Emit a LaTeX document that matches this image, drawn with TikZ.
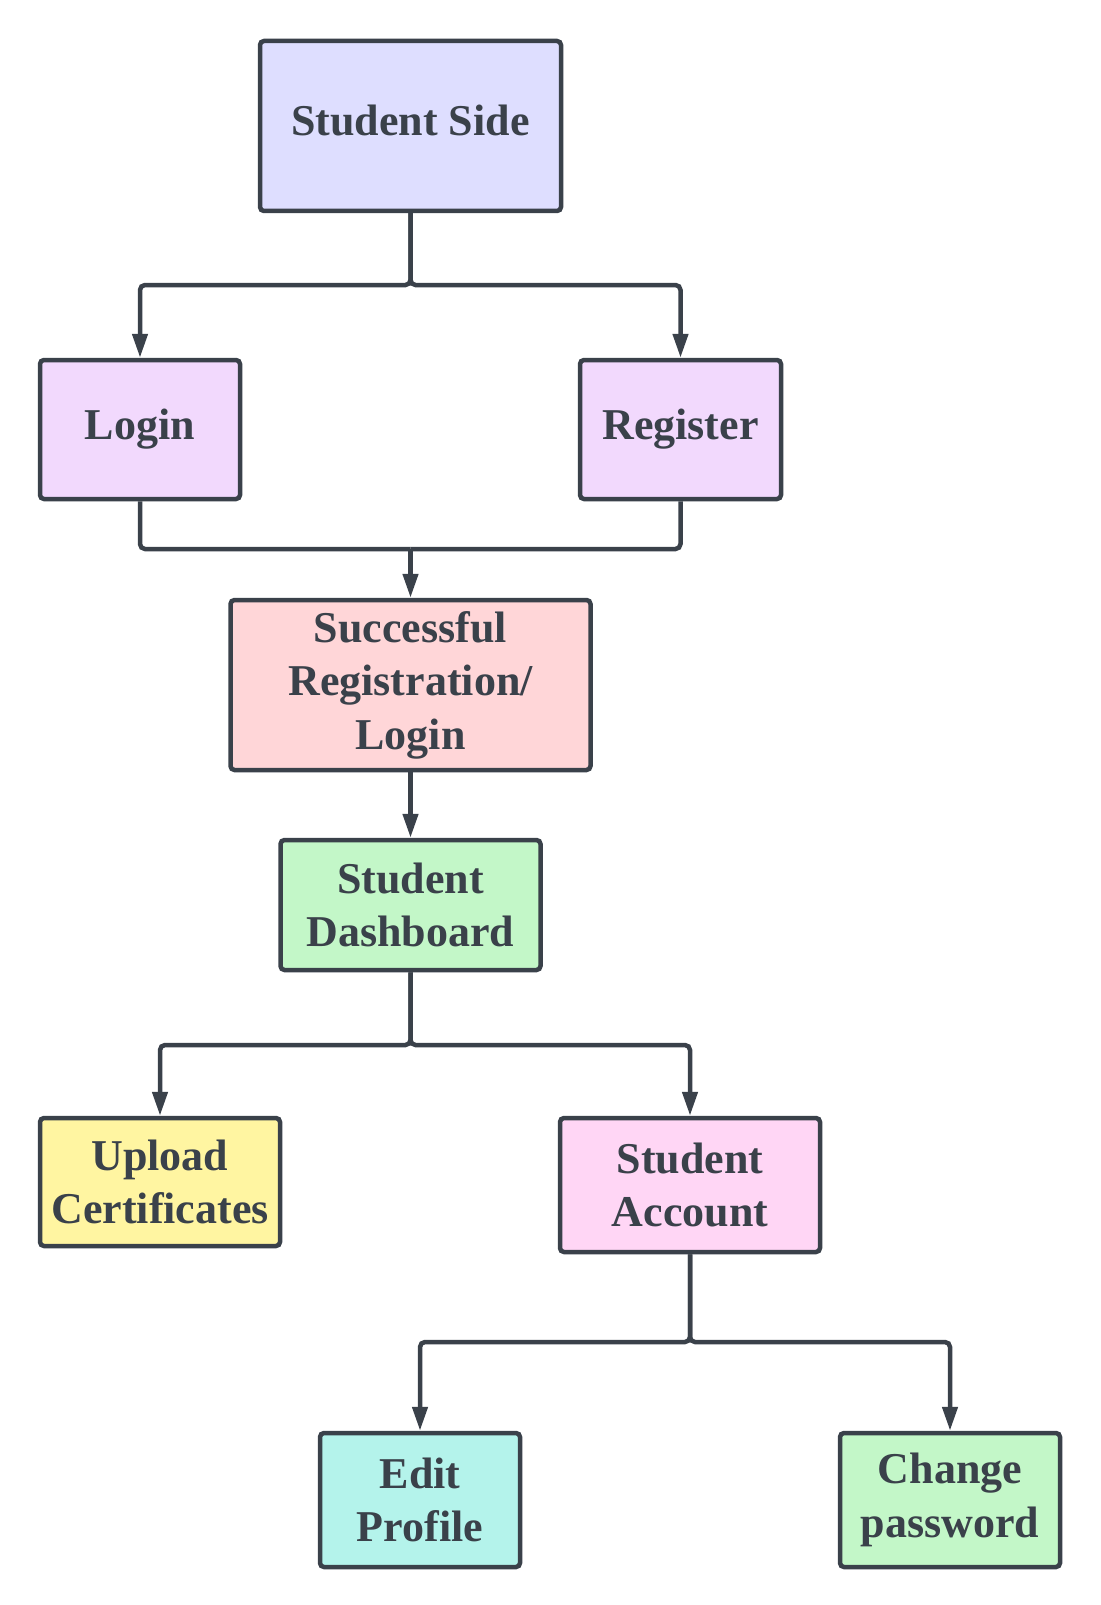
\documentclass[tikz,border=0pt]{standalone}
\usepackage{fontspec}
\setmainfont{Liberation Serif}
\usetikzlibrary{arrows.meta}
\definecolor{ec}{RGB}{58,65,74}
\definecolor{cSide}{RGB}{222,222,255}
\definecolor{cLog}{RGB}{242,217,253}
\definecolor{cSucc}{RGB}{255,214,216}
\definecolor{cDash}{RGB}{195,247,200}
\definecolor{cUp}{RGB}{255,245,161}
\definecolor{cAcc}{RGB}{255,214,245}
\definecolor{cEdit}{RGB}{180,243,235}
\tikzset{
  box/.style={draw=ec, line width=4.5pt, rounded corners=4pt, align=center,
    inner sep=0pt, text=ec, font=\fontsize{44}{53.5}\selectfont\bfseries},
  conn/.style={draw=ec, line width=4.5pt, rounded corners=5pt},
  arr/.style={conn, -{Triangle[length=24pt,width=15pt]}}
}
\begin{document}
\begin{tikzpicture}[x=1pt,y=-1pt]
\useasboundingbox (0,0) rectangle (1100,1605);
\fill[white] (0,0) rectangle (1100,1605);

\node[box, fill=cSide, minimum width=301pt, minimum height=170pt, text depth=12pt] (ss) at (410.5,126) {Student Side};
\node[box, fill=cLog, minimum width=200pt, minimum height=139pt] (login) at (140,429.5) {Login};
\node[box, fill=cLog, minimum width=201pt, minimum height=139pt] (reg) at (680.5,429.5) {Register};
\node[box, fill=cSucc, minimum width=360pt, minimum height=170pt] (succ) at (410.5,685) {Successful\\Registration/\\Login};
\node[box, fill=cDash, minimum width=260pt, minimum height=130pt] (dash) at (410.5,905) {Student\\Dashboard};
\node[box, fill=cUp, minimum width=240pt, minimum height=128pt] (up) at (160,1182) {Upload\\Certificates};
\node[box, fill=cAcc, minimum width=260pt, minimum height=134pt] (acc) at (690,1185) {Student\\Account};
\node[box, fill=cEdit, minimum width=200pt, minimum height=134pt] (edit) at (420,1500) {Edit\\Profile};
\node[box, fill=cDash, minimum width=220pt, minimum height=134pt] (chg) at (950,1500) {Change\\password};

\coordinate (j1) at (410.5,285);
\coordinate (j2) at (410.5,549);
\coordinate (j3) at (410.5,1045);
\coordinate (j4) at (690,1342);

\draw[arr] (ss.south) -- (j1) -| (login.north);
\draw[arr] (ss.south) -- (j1) -| (reg.north);
\draw[conn] (login.south) |- (j2);
\draw[conn] (reg.south) |- (j2);
\draw[arr] (j2) -- (succ.north);
\draw[arr] (succ.south) -- (dash.north);
\draw[arr] (dash.south) -- (j3) -| (up.north);
\draw[arr] (dash.south) -- (j3) -| (acc.north);
\draw[arr] (acc.south) -- (j4) -| (edit.north);
\draw[arr] (acc.south) -- (j4) -| (chg.north);
\end{tikzpicture}
\end{document}
